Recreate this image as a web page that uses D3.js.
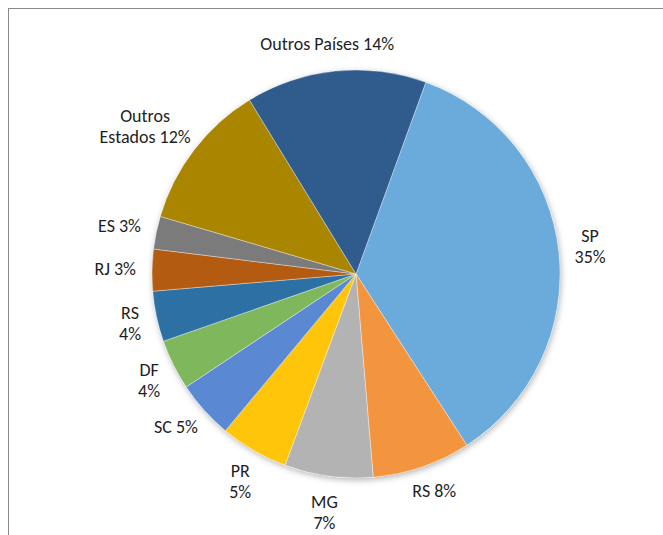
<!DOCTYPE html>
<html>
<head>
<meta charset="utf-8">
<script src="https://cdn.jsdelivr.net/npm/d3@7"></script>
<style>
  body { margin: 0; background: #fff; }
  svg { display: block; }
  text { font-family: Calibri, Carlito, Lato, sans-serif; font-size: 18px; fill: #1e1e1e; }
</style>
</head>
<body>
<svg width="663" height="535"></svg>
<script>
// slices clockwise, starting at the Outros Países / SP boundary
const categories = ['SP', 'RS', 'MG', 'PR', 'SC', 'DF', 'RS', 'RJ', 'ES', 'Outros Estados', 'Outros Países'];
const values = [35.3, 7.8, 7.0, 5.4, 4.6, 4.0, 4.0, 3.3, 2.6, 11.7, 14.3];
const colors = ['#6aabdc', '#f3943f', '#b3b3b3', '#ffc50a', '#5a88d2', '#7fb75c',
                '#2d71a4', '#b35b11', '#7b7b7b', '#aa8500', '#2f5b8d'];
// label text lines, {p} is replaced by the rounded percent
const labelLines = [['SP', '{p}%'], ['RS {p}%'], ['MG', '{p}%'], ['PR', '{p}%'], ['SC {p}%'],
                    ['DF', '{p}%'], ['RS', '{p}%'], ['RJ {p}%'], ['ES {p}%'],
                    ['Outros', 'Estados {p}%'], ['Outros Países {p}%']];

const svg = d3.select('svg');
const cx = 356, cy = 274, radius = 204;
const startAngle = 20 * Math.PI / 180;

const data = categories.map((c, i) => ({ name: c, value: values[i], i }));
const total = d3.sum(values);

// frame
svg.append('rect')
    .attr('x', 8.5).attr('y', 8.5)
    .attr('width', 700).attr('height', 600)
    .attr('fill', 'none')
    .attr('stroke', '#8a8a8a')
    .attr('stroke-width', 1);

const defs = svg.append('defs');
defs.append('filter')
    .attr('id', 'shadow')
    .attr('x', '-20%').attr('y', '-20%')
    .attr('width', '140%').attr('height', '140%')
  .append('feDropShadow')
    .attr('dx', 1).attr('dy', 2)
    .attr('stdDeviation', 3)
    .attr('flood-color', '#000')
    .attr('flood-opacity', 0.3);

const pie = d3.pie()
    .sort(null)
    .value(d => d.value)
    .startAngle(startAngle)
    .endAngle(startAngle + 2 * Math.PI);

const arc = d3.arc().innerRadius(0).outerRadius(radius);
const arcs = pie(data);

const g = svg.append('g').attr('transform', `translate(${cx},${cy})`);

g.append('circle')
    .attr('r', radius)
    .attr('fill', '#fff')
    .attr('filter', 'url(#shadow)');

g.selectAll('path.slice')
    .data(arcs)
    .enter().append('path')
        .attr('class', 'slice')
        .attr('d', arc)
        .attr('fill', d => colors[d.index])
        .attr('stroke', '#ffffff')
        .attr('stroke-opacity', 0.5)
        .attr('stroke-width', 0.7);

// labels outside, box pushed out along the mid angle
const lineH = 21;
const anchorR = radius + 16;
const labels = g.selectAll('text.lbl')
    .data(arcs)
    .enter().append('text')
        .attr('class', 'lbl')
        .attr('text-anchor', 'middle');

labels.each(function(d) {
    const pct = Math.round(d.data.value / total * 100);
    const lines = labelLines[d.index].map(s => s.replace('{p}', pct));
    const t = d3.select(this);
    lines.forEach((s, k) => {
        t.append('tspan').attr('x', 0).attr('dy', k === 0 ? 0 : lineH).text(s);
    });
    const bb = this.getBBox();
    const w = bb.width, h = lines.length * lineH;
    const a = (d.startAngle + d.endAngle) / 2;
    const ux = Math.sin(a), uy = -Math.cos(a);
    const bx = ux * anchorR + ux * w / 2;
    const by = uy * anchorR + uy * h / 2;
    // baseline of first line so the block is vertically centred on by
    const y0 = by - h / 2 + lineH * 0.75;
    t.attr('transform', `translate(${bx},${y0})`);
});
</script>
</body>
</html>
